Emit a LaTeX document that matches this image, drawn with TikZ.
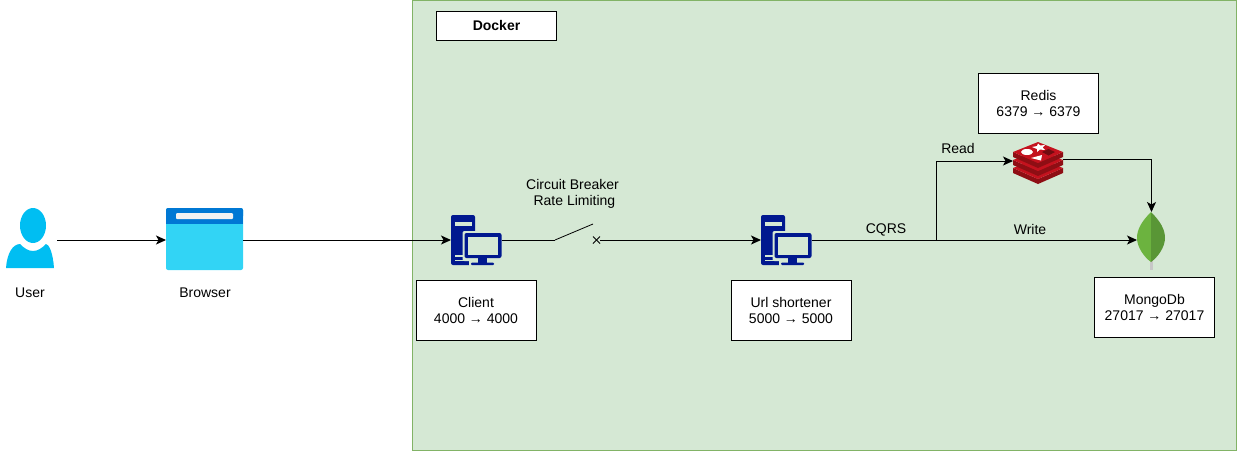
\documentclass[tikz,border=0pt]{standalone}
\usepackage{fontspec}
\setmainfont{Liberation Sans}
\usetikzlibrary{positioning}
\usetikzlibrary{arrows.meta}
\definecolor{dockerfill}{HTML}{D5E8D4}
\definecolor{dockerline}{HTML}{82B366}
\definecolor{pcblue}{HTML}{00188F}
\definecolor{usercyan}{HTML}{00BEF2}
\definecolor{barblue}{HTML}{0078D4}
\definecolor{pagecyan}{HTML}{32D4F5}
\definecolor{redisred}{HTML}{C4121E}
\definecolor{redisdark}{HTML}{8E0E14}
\definecolor{leafleft}{HTML}{6CB33F}
\definecolor{leafright}{HTML}{599636}
\tikzset{
  flow/.style = {line width=1pt, -{Stealth[length=10pt,width=9pt,inset=2.5pt]}},
  wire/.style = {line width=1pt},
  main/.style = {draw=black, fill=white, line width=1pt, minimum width=120pt, minimum height=60pt, align=center, inner sep=2pt, font=\fontsize{14}{16}\selectfont},
  lbl/.style = {align=center, inner sep=0pt, font=\fontsize{14}{16}\selectfont},
  iconbox/.style = {inner sep=0pt, outer sep=0pt, anchor=north west},
  % icons, origin = top left corner
  usericon/.pic = {
    \fill[usercyan] (27,17.5) ellipse [x radius=13, y radius=17.5];
    \fill[usercyan] (0,60) .. controls (1,45) and (7,36) .. (14,36) .. controls (18,40) and (22,43) .. (27,43)
      .. controls (32,43) and (36,40) .. (40,36) .. controls (43,36) and (47,45) .. (48,60) -- cycle;
  },
  browsericon/.pic = {
    \fill[pagecyan, rounded corners=2pt] (0,0) rectangle (77,62);
    \fill[barblue, rounded corners=2pt] (0,0) rectangle (77,10);
    \fill[barblue] (0,6) rectangle (77,16);
    \fill[white!95!black, rounded corners=1pt] (10,5) rectangle (67,11);
  },
  pcicon/.pic = {
    \fill[pcblue, rounded corners=2pt] (0,0) rectangle (24,50);
    \fill[dockerfill] (3.5,7) rectangle (21,10.5);
    \fill[dockerfill] (3.5,40) rectangle (12,42);
    \fill[dockerfill] (3.5,44.5) rectangle (21,46);
    \fill[dockerfill, rounded corners=2pt] (11.5,16) rectangle (52,46);
    \fill[dockerfill] (18,43) rectangle (46,51);
    \fill[pcblue, rounded corners=2pt] (13.5,18) rectangle (50.5,43);
    \fill[dockerfill] (17,22) rectangle (47,39.5);
    \fill[pcblue] (27,43) rectangle (36,48);
    \fill[pcblue, rounded corners=1pt] (20,47.5) rectangle (43,50);
  },
  redisicon/.pic = {
    \fill[redisdark] (0,26) -- (25,37) -- (50,26) -- (50,31) -- (25,42) -- (0,31) -- cycle;
    \fill[redisred] (0,26) -- (25,16) -- (50,26) -- (25,37) -- cycle;
    \fill[redisdark] (0,18) -- (25,29) -- (50,18) -- (50,23) -- (25,34) -- (0,23) -- cycle;
    \fill[redisred] (0,18) -- (25,8) -- (50,18) -- (25,29) -- cycle;
    \fill[redisdark] (0,10) -- (25,21) -- (50,10) -- (50,15) -- (25,26) -- (0,15) -- cycle;
    \fill[redisred] (0,10) -- (25,0) -- (50,10) -- (25,21) -- cycle;
    \fill[white] (14,10) ellipse [x radius=6, y radius=3];
    \fill[white] (25,1.5) -- (27,3.5) -- (32,3) -- (29.5,5.5) -- (32,8) -- (27,7.5) -- (24,10) -- (24,7) -- (19,5) -- (24,4) -- cycle;
    \fill[white] (18,16) -- (29,13) -- (28,18.5) -- cycle;
    \fill[redisdark!80!black] (29,10) -- (35.5,7) -- (42,10) -- (35.5,13.5) -- cycle;
  },
  mongoicon/.pic = {
    \fill[black!22] (13,45) rectangle (15.5,58);
    \fill[leafleft] (14,0) .. controls (5,9) and (0,17) .. (0,26) .. controls (0,35) and (7,45) .. (14,50) -- cycle;
    \fill[leafright] (14,0) .. controls (23,9) and (28,17) .. (28,26) .. controls (28,35) and (21,45) .. (14,50) -- cycle;
  },
}
\begin{document}
\begin{tikzpicture}[x=1pt, y=-1pt, >=Stealth]
\useasboundingbox (0,0) rectangle (1237,451);
\draw[draw=dockerline, fill=dockerfill, line width=1pt] (412.5,0.5) rectangle (1236.5,450.5);
\node[main, minimum height=29pt, font=\fontsize{14}{16}\selectfont\bfseries] (docker) at (496.5,25.5) {Docker};
% icons
\node[iconbox, minimum width=51pt, minimum height=58pt] (user) at (6,211) {};
\node[iconbox, minimum width=77pt, minimum height=64pt] (browser) at (166,208) {};
\node[iconbox, minimum width=51pt, minimum height=50pt] (client) at (451,215) {};
\node[iconbox, minimum width=51pt, minimum height=50pt] (url) at (761,215) {};
\node[iconbox, minimum width=50pt, minimum height=38pt] (redis) at (1013,142) {};
\node[iconbox, minimum width=29pt, minimum height=56pt] (mongo) at (1137,212) {};
\pic at (6,208) {usericon};
\pic at (browser.north west) {browsericon};
\pic at (client.north west) {pcicon};
\pic at (url.north west) {pcicon};
\pic at (redis.north west) {redisicon};
\pic at (mongo.north west) {mongoicon};
% boxes
\node[main] (clientbox) [below=15pt of client, xshift=-0.5pt] {Client\\4000 → 4000};
\node[main] (urlbox) [below=15pt of url, xshift=4.5pt] {Url shortener\\5000 → 5000};
\node[main] (mongobox) at (1154.5,307.5) {MongoDb\\27017 → 27017};
\node[main] (redisbox) at (1038.5,103.5) {Redis\\6379 → 6379};
% labels
\node[lbl] (userlbl) at (30,292.5) {User};
\node[lbl] (browserlbl) at (205,292.5) {Browser};
\node[lbl] (breakerlbl) at (572.5,194) {Circuit Breaker\\\ Rate Limiting};
\node[lbl] (cqrslbl) at (886,230) {CQRS};
\node[lbl] (writelbl) at (1030,229) {Write};
\node[lbl] (readlbl) at (958,148) {Read};
% switch and branch
\coordinate (swleft) at (555,240);
\coordinate (swarm) at (593,224);
\coordinate (swright) at (596.5,240);
\coordinate (split) at (936,240);
\draw[flow] (user) -- (browser);
\draw[flow] (browser) -- (client);
\draw[wire] (client) -- (swleft);
\draw[line width=0.8pt] (swleft) -- (swarm);
\draw[line width=0.8pt] ([xshift=-3.5pt,yshift=3.5pt]swright) -- ([xshift=3.5pt,yshift=-3.5pt]swright);
\draw[line width=0.8pt] ([xshift=-3.5pt,yshift=-3.5pt]swright) -- ([xshift=3.5pt,yshift=3.5pt]swright);
\draw[flow] (swright) ++(3.5,0) -- (url);
\draw[flow] (url) -- (mongo);
\draw[flow] (split) |- (redis);
\draw[flow] ([yshift=2pt]redis.east) -| (mongo);
\end{tikzpicture}
\end{document}
